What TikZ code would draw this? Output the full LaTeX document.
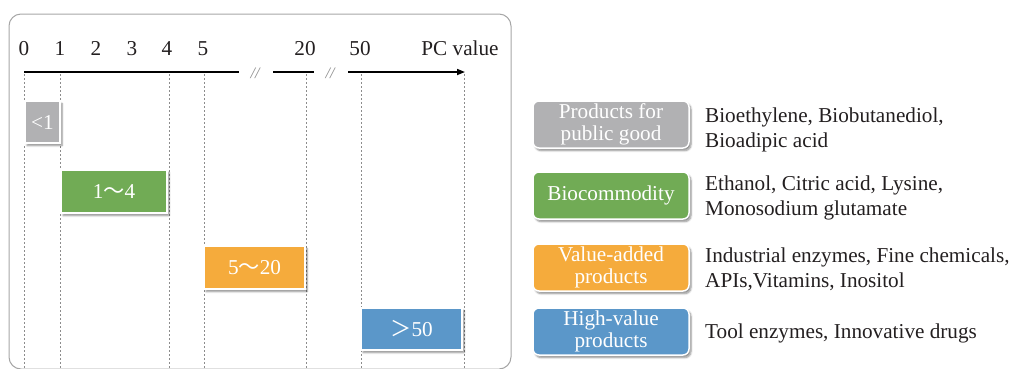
\documentclass[tikz,border=0pt]{standalone}
\usepackage{fontspec}
\setmainfont{Liberation Serif}
\newfontfamily\cjk{Noto Sans CJK SC}
\usetikzlibrary{shadows.blur,arrows.meta}
\definecolor{pgrey}{HTML}{B1B1B3}
\definecolor{pgreen}{HTML}{71AB55}
\definecolor{porange}{HTML}{F5AB3C}
\definecolor{pblue}{HTML}{5B97C9}
\definecolor{framecol}{HTML}{A6A6A6}
\definecolor{guidecol}{HTML}{8C8C8C}
\definecolor{inkcol}{HTML}{231F20}
\begin{document}
\begin{tikzpicture}[x=1pt,y=-1pt,
  every node/.style={font=\fontsize{21.2}{24}\selectfont, inner sep=0pt, text=inkcol},
  rangebox/.style={draw=white, line width=1.5pt, text=white,
    blur shadow={shadow xshift=2pt, shadow yshift=-2.5pt, shadow blur steps=6, shadow opacity=45}},
  classbox/.style={rangebox, rounded corners=6pt, minimum width=156pt, minimum height=47pt,
    align=center, font=\fontsize{21.2}{22}\selectfont},
  guideline/.style={draw=guidecol, dash pattern=on 2pt off 2pt, line width=0.7pt},
  ticklabel/.style={anchor=base},
  brk/.style={text=guidecol, font=\fontsize{16}{16}\selectfont\itshape},
  desc/.style={anchor=west, align=left, font=\fontsize{21.2}{25}\selectfont}
]
\useasboundingbox (0,0) rectangle (1012,368);

% outer frame, open towards the bottom edge
\begin{scope}
  \clip (0,0) rectangle (1012,368);
  \draw[framecol, line width=1pt, rounded corners=12pt] (9,14) rectangle (511,369);
\end{scope}

% axis anchor points
\coordinate (a0) at (24,72);
\coordinate (a1) at (239,72);
\coordinate (b0) at (273,72);
\coordinate (b1) at (314,72);
\coordinate (c0) at (348,72);
\coordinate (c1) at (465,72);

% dashed guides
\foreach \gx/\gn in {24/g0,60/g1,169/g4,204/g5,306/g20,361/g50,464/gend}{
  \coordinate (\gn top) at (\gx,74);
  \coordinate (\gn bot) at (\gx,370);
  \draw[guideline] (\gn top) -- (\gn bot);
}

% broken axis
\draw[line width=1.6pt] (a0) -- (a1);
\draw[line width=1.6pt] (b0) -- (b1);
\draw[line width=1.6pt, -{Triangle[length=8pt,width=6pt]}] (c0) -- (c1);
\node[brk] (brk1) at (255,73) {//};
\node[brk] (brk2) at (330,73) {//};

% tick labels
\node[ticklabel] (t0) at (24,55) {0};
\node[ticklabel] (t1) at (60,55) {1};
\node[ticklabel] (t2) at (96,55) {2};
\node[ticklabel] (t3) at (132,55) {3};
\node[ticklabel] (t4) at (167,55) {4};
\node[ticklabel] (t5) at (203,55) {5};
\node[ticklabel] (t20) at (305,55) {20};
\node[ticklabel] (t50) at (360,55) {50};
\node[ticklabel] (tpc) at (460,55) {PC\ value};

% value ranges
\node[rangebox, fill=pgrey, minimum width=35pt, minimum height=42pt] (rlt) at (42.5,122) {<1};
\node[rangebox, fill=pgreen, minimum width=106pt, minimum height=43pt] (r14) at (114,191.5) {1{\cjk ～}4};
\node[rangebox, fill=porange, minimum width=101pt, minimum height=43pt] (r520) at (254.5,267.5) {5{\cjk ～}20};
\node[rangebox, fill=pblue, minimum width=101pt, minimum height=42pt] (r50) at (411.5,329) {{\cjk ＞}50};

% product classes
\node[classbox, fill=pgrey] (k1) at (611,124.5) {Products for\\public good};
\node[classbox, fill=pgreen] (k2) at (611,195.5) {Biocommodity};
\node[classbox, fill=porange] (k3) at (611,267.5) {Value-added\\products};
\node[classbox, fill=pblue] (k4) at (611,331.5) {High-value\\products};

% examples
\node[desc] (d1) at (705,130) {Bioethylene, Biobutanediol,\\Bioadipic acid};
\node[desc] (d2) at (705,198) {Ethanol, Citric acid, Lysine,\\Monosodium glutamate};
\node[desc] (d3) at (705,269) {Industrial enzymes, Fine chemicals,\\APIs,Vitamins, Inositol};
\node[desc] (d4) at (705,333) {Tool enzymes, Innovative drugs};
\end{tikzpicture}
\end{document}
